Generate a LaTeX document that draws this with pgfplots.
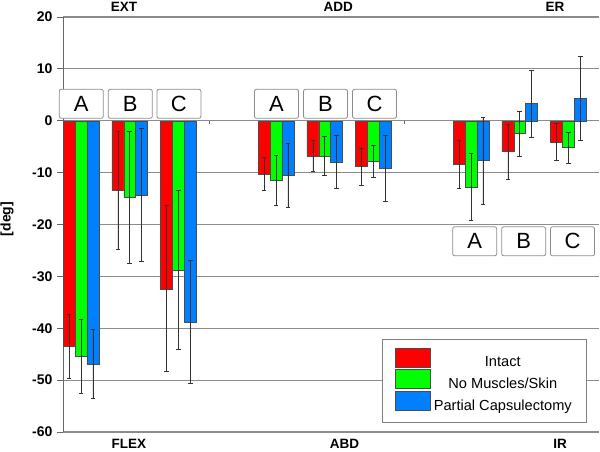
\documentclass[border=0pt]{standalone}
\usepackage{pgfplots}
\pgfplotsset{compat=1.18}
\usepackage{pgfplotstable}
\usepackage{fontspec}
\setmainfont{Liberation Sans}
\definecolor{cred}{RGB}{255,0,0}
\definecolor{cgreen}{RGB}{0,255,0}
\definecolor{cblue}{RGB}{0,128,255}
\definecolor{gridc}{RGB}{140,140,140}

\pgfplotstableread{
x y e
69.1 -43.5 6.2
117.85 -13.4 11.3
166.6 -32.4 16.0
264.1 -10.3 3.2
312.85 -6.8 3.0
361.6 -8.85 3.6
459.1 -8.4 4.7
507.85 -5.9 5.3
556.6 -4.1 3.55
}\redtab

\pgfplotstableread{
x y e
81 -45.4 7.2
129.75 -14.7 12.7
178.5 -28.8 15.3
276 -11.5 4.75
324.75 -6.8 3.8
373.5 -7.8 3.1
471 -12.8 6.45
519.75 -2.5 4.3
568.5 -5.2 3.0
}\greentab

\pgfplotstableread{
x y e
92.9 -46.9 6.6
141.65 -14.3 12.8
190.4 -38.8 11.8
287.9 -10.5 6.2
336.65 -8.0 5.1
385.4 -9.2 6.3
482.9 -7.7 8.4
531.65 3.3 6.45
580.4 4.3 8.1
}\bluetab

\begin{document}
\begin{tikzpicture}
\useasboundingbox (0pt,0pt) rectangle (600pt,451pt);
\begin{axis}[
  at={(63pt,19pt)}, anchor=south west,
  scale only axis, width=536pt, height=415pt,
  xmin=63, xmax=599, ymin=-60, ymax=20,
  ytick={-60,-50,-40,-30,-20,-10,0,10,20},
  yticklabels={-60,-50,-40,-30,-20,-10,0,10,20},
  axis x line=none, axis y line=left,
  axis line style={-, draw=black!60, line width=1pt},
  ymajorgrids, grid style={gridc, line width=1.2pt},
  tick align=outside, major tick length=6pt,
  ytick style={draw=black!60, line width=1pt},
  yticklabel style={font=\fontsize{14}{16}\selectfont\bfseries, xshift=-1pt},
  ybar, bar width=11.9, bar shift=0pt,
  legend image code/.code={\draw[#1, draw=black!70, line width=0.6pt] (0pt,-4.5pt) rectangle (35pt,14.5pt);},
  legend cell align=center,
  legend style={at={(0.5946,0.2234)}, anchor=north west, draw=black!50, line width=1pt, fill=white,
    font=\fontsize{14.6}{16}\selectfont, inner xsep=13pt, inner ysep=8pt, row sep=-1pt, column sep=1pt},
  error bars/error bar style={line width=0.7pt, black!80},
  error bars/error mark options={rotate=90, line width=0.7pt, black!80, mark size=2.3pt},
]
\addplot[fill=cred, draw=black!70, line width=0.5pt, error bars/.cd, y dir=both, y explicit]
  table[x=x, y=y, y error=e] {\redtab};
\addplot[fill=cgreen, draw=black!70, line width=0.5pt, error bars/.cd, y dir=both, y explicit]
  table[x=x, y=y, y error=e] {\greentab};
\addplot[fill=cblue, draw=black!70, line width=0.5pt, error bars/.cd, y dir=both, y explicit]
  table[x=x, y=y, y error=e] {\bluetab};
\legend{Intact, No Muscles/Skin, Partial Capsulectomy}
\draw[black!60, line width=0.8pt] (axis cs:209,0) -- (axis cs:209,-0.6);
\draw[black!60, line width=0.8pt] (axis cs:404,0) -- (axis cs:404,-0.6);
\end{axis}
\tikzset{lbl/.style={draw=black!45, fill=white, rounded corners=2pt, line width=0.8pt,
  minimum width=44pt, minimum height=29pt, inner sep=0pt, font=\fontsize{22}{24}\selectfont}}
\node[lbl] at (81.3pt,347.2pt) {A};
\node[lbl] at (130.3pt,347.2pt) {B};
\node[lbl] at (178.9pt,347.2pt) {C};
\node[lbl] at (276.5pt,347.2pt) {A};
\node[lbl] at (325.5pt,347.2pt) {B};
\node[lbl] at (374.5pt,347.2pt) {C};
\node[lbl] at (474.7pt,209.7pt) {A};
\node[lbl] at (523.7pt,209.7pt) {B};
\node[lbl] at (572.5pt,209.7pt) {C};
\tikzset{grp/.style={font=\fontsize{13.5}{15}\selectfont\bfseries, inner sep=0pt}}
\node[grp] at (124pt,444pt) {EXT};
\node[grp] at (338.3pt,444pt) {ADD};
\node[grp] at (555pt,444pt) {ER};
\node[grp] at (128.8pt,7pt) {FLEX};
\node[grp] at (344.5pt,7pt) {ABD};
\node[grp] at (560pt,7pt) {IR};
\node[font=\fontsize{14}{16}\selectfont\bfseries, rotate=90, inner sep=0pt] at (7pt,232pt) {[deg]};
\end{tikzpicture}
\end{document}
